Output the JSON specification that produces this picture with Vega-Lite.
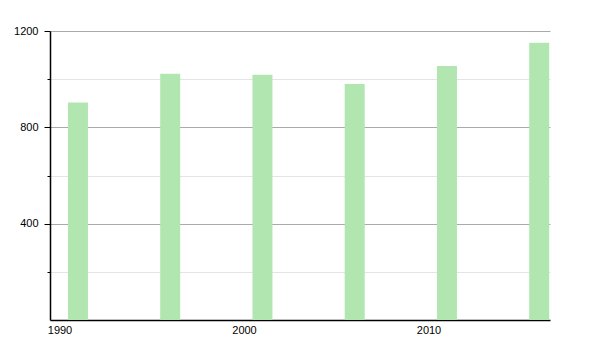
{
  "$schema": "https://vega.github.io/schema/vega-lite/v6.json",
  "width": 500,
  "height": 289,
  "autosize": {"type": "none"},
  "padding": {"left": 50, "top": 31, "right": 50, "bottom": 30},
  "background": "white",
  "config": {
    "view": {"stroke": null},
    "font": "Liberation Sans",
    "axis": {"labelFont": "Liberation Sans", "labelFontSize": 11, "labelColor": "#000", "title": null}
  },
  "data": {"values": [
    {"year": 1991, "value": 903},
    {"year": 1996, "value": 1022},
    {"year": 2001, "value": 1018},
    {"year": 2006, "value": 980},
    {"year": 2011, "value": 1055},
    {"year": 2016, "value": 1151}
  ]},
  "layer": [
    {
      "mark": {"type": "bar", "width": 20, "color": "#b2e6b0"},
      "encoding": {
        "x": {"field": "year", "type": "quantitative",
          "scale": {"domain": [1989.485, 2016.585], "nice": false, "zero": false, "padding": 0},
          "axis": {"values": [1990, 2000, 2010], "format": "d", "ticks": false, "grid": false, "domainColor": "#000", "domainWidth": 1.5, "labelPadding": 4}},
        "y": {"field": "value", "type": "quantitative",
          "scale": {"domain": [0, 1200], "nice": false},
          "axis": {"values": [400, 800, 1200], "format": "d", "grid": true, "gridColor": "#aaaaaa", "gridWidth": 1, "domainColor": "#000", "domainWidth": 1.5, "tickColor": "#000", "tickSize": 6, "labelPadding": 6}}
      }
    },
    {
      "mark": {"type": "bar", "width": 20, "opacity": 0},
      "encoding": {
        "y": {"field": "value", "type": "quantitative",
          "axis": {"orient": "left", "values": [200, 600, 1000], "labels": false, "grid": true, "gridColor": "#e4e4e4", "gridWidth": 1, "domain": false, "tickColor": "#000", "tickSize": 3}}
      }
    }
  ],
  "resolve": {"axis": {"y": "independent"}}
}
